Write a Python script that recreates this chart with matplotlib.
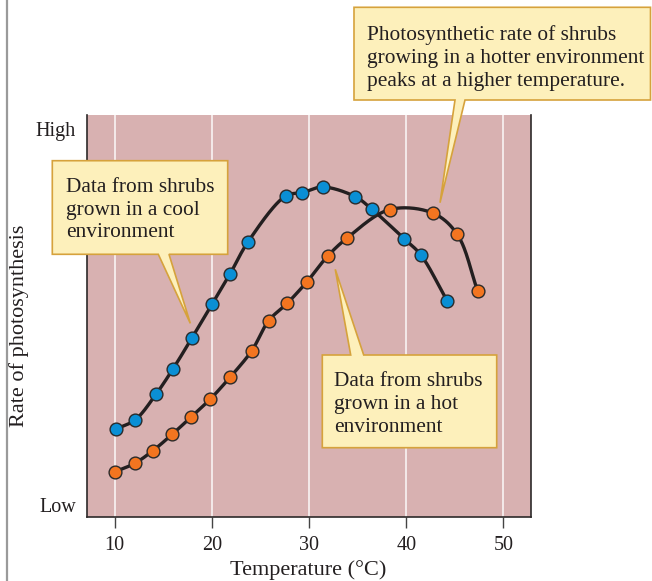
import numpy as np
import matplotlib
matplotlib.use("Agg")
import matplotlib.pyplot as plt
from matplotlib.patches import Polygon
from matplotlib.lines import Line2D

# Measured photosynthetic rate (relative units, 0 = low, 100 = high)
cool_temp = [10.1, 12.1, 14.25, 16.0, 17.95, 20.0, 21.85, 23.7, 27.6, 29.3, 31.4,
             34.75, 36.45, 39.75, 41.5, 44.2]
cool_rate = [21.9, 24.2, 30.6, 36.9, 44.6, 52.9, 60.4, 68.4, 79.9, 80.7, 82.1,
             79.7, 76.6, 69.3, 65.2, 53.8]

hot_temp = [10.0, 12.05, 13.9, 15.9, 17.85, 19.8, 21.9, 24.1, 25.85, 27.75, 29.8,
            31.9, 33.95, 38.3, 42.75, 45.25, 47.35]
hot_rate = [11.3, 13.4, 16.5, 20.6, 24.9, 29.3, 34.9, 41.4, 48.9, 53.2, 58.6,
            64.9, 69.5, 76.5, 75.6, 70.3, 56.2]

x_ticks = [10, 20, 30, 40, 50]
y_ticks = [3, 96.5]
y_tick_labels = ["Low", "High"]

W, H = 652, 581
plt.rcParams["font.family"] = ["Liberation Serif", "DejaVu Serif"]
TEXT = "#231f20"
FS_TICK = 14.5
FS_LABEL = 16
FS_NOTE = 15.4

fig = plt.figure(figsize=(W / 100, H / 100), dpi=100)
fig.patch.set_facecolor("white")


def px(x, y):
    """Image pixel (top-left origin) -> figure fraction."""
    return x / W, 1 - y / H


ax_l, ax_t = px(87, 115)
ax_r, ax_b = px(530.7, 517.3)
ax = fig.add_axes([ax_l, ax_b, ax_r - ax_l, ax_t - ax_b])
ax.set_facecolor("#d8b1b1")
ax.set_xlim(7.15, 52.8)
ax.set_ylim(0, 100)

for xv in x_ticks:
    ax.axvline(xv, color="#f6eeee", lw=1.3, zorder=1)

for side in ("left", "right", "bottom"):
    ax.spines[side].set_color("#2d2a2a")
    ax.spines[side].set_linewidth(1.2)
ax.spines["top"].set_visible(False)

ax.set_xticks(x_ticks)
ax.set_xticklabels([str(v) for v in x_ticks])
ax.tick_params(axis="x", direction="out", length=8, width=1.0, color="#444444",
               pad=5.5, labelsize=FS_TICK, labelcolor=TEXT)
ax.set_yticks(y_ticks)
ax.set_yticklabels(y_tick_labels)
ax.tick_params(axis="y", length=0, pad=8, labelsize=FS_TICK, labelcolor=TEXT)


def catmull_rom(xs, ys, sx, sy, n=40, alpha=0.5):
    pts = np.column_stack([np.asarray(xs) * sx, np.asarray(ys) * sy])
    pts = np.vstack([2 * pts[0] - pts[1], pts, 2 * pts[-1] - pts[-2]])
    out = []
    for i in range(1, len(pts) - 2):
        p0, p1, p2, p3 = pts[i - 1], pts[i], pts[i + 1], pts[i + 2]
        t0 = 0.0
        t1 = t0 + np.linalg.norm(p1 - p0) ** alpha
        t2 = t1 + np.linalg.norm(p2 - p1) ** alpha
        t3 = t2 + np.linalg.norm(p3 - p2) ** alpha
        t = np.linspace(t1, t2, n)[:, None]
        a1 = (t1 - t) / (t1 - t0) * p0 + (t - t0) / (t1 - t0) * p1
        a2 = (t2 - t) / (t2 - t1) * p1 + (t - t1) / (t2 - t1) * p2
        a3 = (t3 - t) / (t3 - t2) * p2 + (t - t2) / (t3 - t2) * p3
        b1 = (t2 - t) / (t2 - t0) * a1 + (t - t0) / (t2 - t0) * a2
        b2 = (t3 - t) / (t3 - t1) * a2 + (t - t1) / (t3 - t1) * a3
        c = (t2 - t) / (t2 - t1) * b1 + (t - t1) / (t2 - t1) * b2
        out.append(c if i == 1 else c[1:])
    out = np.vstack(out)
    return out[:, 0] / sx, out[:, 1] / sy


for temps, rates, colour in [(cool_temp, cool_rate, "#0a8fd5"),
                             (hot_temp, hot_rate, "#f37520")]:
    cx, cy = catmull_rom(temps, rates, 9.72, 4.023)
    ax.plot(cx, cy, color="#231f20", lw=2.4, zorder=3, solid_capstyle="round")
    ax.plot(temps, rates, "o", ms=9.2, mfc=colour, mec="#2a2a2a", mew=1.0, zorder=4)

# Axis titles
fig.text(*px(308.5, 570), "Temperature (\u00b0C)", ha="center", va="center",
         fontsize=FS_LABEL, color=TEXT)
fig.text(*px(19.5, 326), "Rate of photosynthesis", ha="center", va="center",
         rotation=90, fontsize=FS_LABEL, color=TEXT)

# Thin rule along the left margin
fig.add_artist(Line2D([6.5 / W, 6.5 / W], [0, 1], transform=fig.transFigure,
                      color="#9a9a9a", lw=1.6))

# Callouts
to_fig = ax.transData + fig.transFigure.inverted()
BOX_FACE = "#fdf0bb"
BOX_EDGE = "#d6a23c"


def callout(verts_px, tip_data, tip_index, text, last_baseline_xy):
    verts = [px(*v) for v in verts_px]
    verts.insert(tip_index, tuple(to_fig.transform(tip_data)))
    fig.add_artist(Polygon(verts, closed=True, transform=fig.transFigure,
                           facecolor=BOX_FACE, edgecolor=BOX_EDGE, lw=1.2,
                           joinstyle="miter", zorder=5))
    fig.text(*px(*last_baseline_xy), text, ha="left", va="baseline",
             fontsize=FS_NOTE, color=TEXT, linespacing=1.27, zorder=6)


callout([(52.3, 160.7), (227.7, 160.7), (227.7, 254.3), (169, 254.3),
         (158.3, 254.3), (52.3, 254.3)], (17.78, 48.2), 4,
        "Data from shrubs\ngrown in a cool\nenvironment", (66, 237.5))

callout([(322.3, 355), (350.7, 355), (363.7, 355), (496.7, 355),
         (496.7, 447.7), (322.3, 447.7)], (32.69, 61.65), 2,
        "Data from shrubs\ngrown in a hot\nenvironment", (334.3, 431.7))

callout([(354, 7.3), (650.5, 7.3), (650.5, 100), (465, 100),
         (455, 100), (354, 100)], (43.47, 78.2), 4,
        "Photosynthetic rate of shrubs\ngrowing in a hotter environment\n"
        "peaks at a higher temperature.", (367.3, 86))

fig.savefig("out.png", dpi=100, facecolor="white")
